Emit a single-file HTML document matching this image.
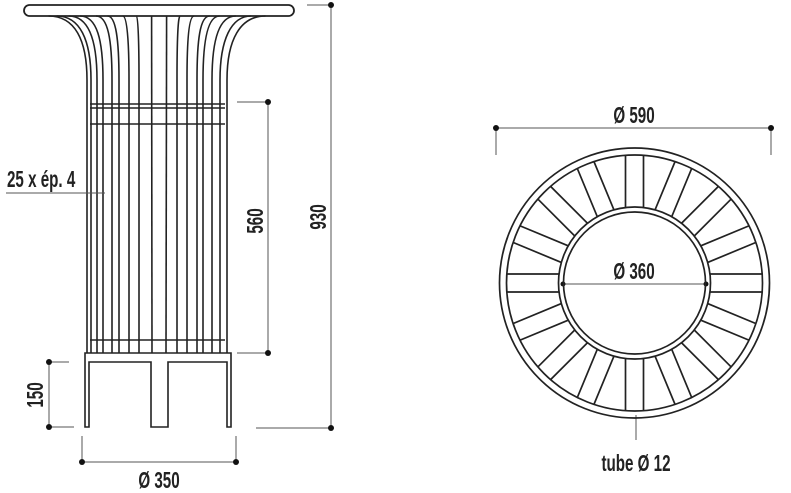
<!DOCTYPE html>
<html><head><meta charset="utf-8"><style>
html,body{margin:0;padding:0;background:#fff;}
svg{display:block;}
text{font-family:"Liberation Sans",sans-serif;font-size:23px;font-weight:bold;fill:#222;}
</style></head><body>
<svg width="791" height="493" viewBox="0 0 791 493" xmlns="http://www.w3.org/2000/svg">
<g fill="none" stroke="#222" stroke-width="1.6">
<rect x="24" y="5" width="270" height="11" rx="5.5" stroke-width="1.8"/>
<path d="M48.5 16 C75 16 87 40 87 80 L87 353"/>
<path d="M56.7 16 C80 16 91 40 91 80 L91 353"/>
<path d="M68.7 16 C89 16 97 40 97 80 L97 353"/>
<path d="M80.1 16 C97 16 103 40 103 80 L103 353"/>
<path d="M96.1 16 C108 16 112 40 112 80 L112 353"/>
<path d="M107.6 16 C116 16 119 40 119 80 L119 353"/>
<path d="M122.8 16 C127 16 129 40 129 80 L129 353"/>
<path d="M136.5 16 C138 16 139 40 139 80 L139 353"/>
<path d="M151.6 16 L152 353"/>
<path d="M166.6 16 L166 353"/>
<path d="M180.1 16 C178 16 177 40 177 80 L177 353"/>
<path d="M194.1 16 C189 16 187 40 187 80 L187 353"/>
<path d="M209.6 16 C200 16 197 40 197 80 L197 353"/>
<path d="M219.6 16 C208 16 203 40 203 80 L203 353"/>
<path d="M235.8 16 C219 16 212 40 212 80 L212 353"/>
<path d="M251.2 16 C231 16 220 40 220 80 L220 353"/>
<path d="M265.5 16 C240 16 227 40 227 80 L227 353"/>
<line x1="90" y1="104" x2="225" y2="104"/>
<line x1="90" y1="108" x2="225" y2="108"/>
<line x1="90" y1="124" x2="225" y2="124"/>
<line x1="90" y1="340" x2="225" y2="340"/>
<path d="M85 353 H231 V427 H227 V362 H168 V427 H151 V362 H89 V427 H85 Z"/>
</g>
<g stroke="#555" stroke-width="1" fill="none">
<line x1="307" y1="5" x2="331" y2="5"/><line x1="331" y1="5" x2="331" y2="428"/><line x1="256" y1="428" x2="331" y2="428"/>
<line x1="237" y1="102" x2="268" y2="102"/><line x1="268" y1="102" x2="268" y2="353"/><line x1="237" y1="353" x2="268" y2="353"/>
<line x1="49" y1="362" x2="69" y2="362"/><line x1="49" y1="362" x2="49" y2="427"/><line x1="49" y1="427" x2="74" y2="427"/>
<line x1="82" y1="436" x2="82" y2="462"/><line x1="82" y1="462" x2="236" y2="462"/><line x1="236" y1="436" x2="236" y2="462"/>
<line x1="6" y1="193" x2="105" y2="193"/>
<line x1="496" y1="128" x2="771" y2="128"/><line x1="496" y1="128" x2="496" y2="155"/><line x1="771" y1="128" x2="771" y2="155"/>
<line x1="563" y1="284" x2="706" y2="284"/>
<line x1="636" y1="415" x2="636" y2="440"/>
</g>
<g fill="#111">
<circle cx="331" cy="5" r="3"/><circle cx="331" cy="428" r="3"/>
<circle cx="268" cy="102" r="3"/><circle cx="268" cy="353" r="3"/>
<circle cx="49" cy="362" r="3"/><circle cx="49" cy="427" r="3"/>
<circle cx="82" cy="462" r="3"/><circle cx="236" cy="462" r="3"/>
<circle cx="496" cy="128" r="3"/><circle cx="771" cy="128" r="3"/>
<circle cx="563" cy="284" r="2.5"/><circle cx="706" cy="284" r="2.5"/>
</g>
<g fill="none" stroke="#222" stroke-width="1.7" transform="translate(634.5 283)">
<circle r="135"/><circle r="128"/><circle r="76"/><circle r="71"/>
<g id="s"><line x1="-9" y1="-127.5" x2="-9" y2="-75.5"/><line x1="9" y1="-127.5" x2="9" y2="-75.5"/></g>
<use href="#s" transform="rotate(22.5)"/><use href="#s" transform="rotate(45)"/><use href="#s" transform="rotate(67.5)"/>
<use href="#s" transform="rotate(90)"/><use href="#s" transform="rotate(112.5)"/><use href="#s" transform="rotate(135)"/>
<use href="#s" transform="rotate(157.5)"/><use href="#s" transform="rotate(180)"/><use href="#s" transform="rotate(202.5)"/>
<use href="#s" transform="rotate(225)"/><use href="#s" transform="rotate(247.5)"/><use href="#s" transform="rotate(270)"/>
<use href="#s" transform="rotate(292.5)"/><use href="#s" transform="rotate(315)"/><use href="#s" transform="rotate(337.5)"/>
</g>
<text transform="translate(7 187) scale(0.66 1)">25 x ép. 4</text>
<text transform="translate(326 217) rotate(-90) scale(0.66 1)" text-anchor="middle">930</text>
<text transform="translate(263 221) rotate(-90) scale(0.66 1)" text-anchor="middle">560</text>
<text transform="translate(43 395) rotate(-90) scale(0.66 1)" text-anchor="middle">150</text>
<text transform="translate(159 488) scale(0.66 1)" text-anchor="middle">Ø 350</text>
<text transform="translate(634 123) scale(0.66 1)" text-anchor="middle">Ø 590</text>
<text transform="translate(634 279) scale(0.66 1)" text-anchor="middle">Ø 360</text>
<text transform="translate(636 471) scale(0.66 1)" text-anchor="middle">tube Ø 12</text>
</svg>
</body></html>
